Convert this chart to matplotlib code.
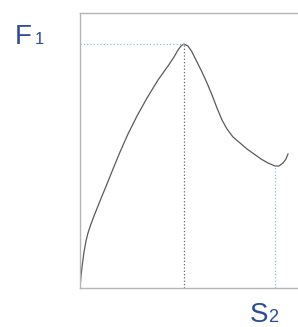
import matplotlib.pyplot as plt

# curve (x, y in arbitrary units, origin at the axes corner)
curve_x = [0, 1, 2, 4, 6, 8, 11, 14, 18, 22, 27, 33, 40, 48, 57, 67, 78, 88, 94, 98, 101, 104,
           108, 112, 117, 122, 127, 132, 137, 142, 147, 153, 160, 167, 174, 181, 188, 195,
           199, 203, 206, 208]
curve_y = [0, 12, 21, 36, 47, 55, 64, 72, 82, 92, 104, 119, 136, 154, 172, 190, 208, 222, 231, 238, 242, 244,
           242, 236, 226, 216, 205, 193, 180, 168, 159, 151, 145, 139, 134, 129, 125, 122,
           122, 125, 129, 134]

peak_x, peak_y = 104, 244
min_x, min_y = 195, 122
x_max, y_max = 220, 275

label_f = "F"
label_f_sub = "1"
label_s = "S"
label_s_sub = "2"


def main():
    plt.rcParams["font.family"] = ["Liberation Sans", "DejaVu Sans"]
    fig = plt.figure(figsize=(2.98, 3.27), dpi=100)
    ax = fig.add_axes([80 / 298, 1 - 288 / 327, 220 / 298, 275 / 327])

    ax.plot(curve_x, curve_y, color="#5a5a5a", linewidth=0.9)
    ax.plot([0, peak_x], [peak_y, peak_y], color="#8cc3de", linestyle=":", linewidth=0.9)
    ax.plot([peak_x, peak_x], [0, peak_y], color="#666666", linestyle=":", linewidth=0.9)
    ax.plot([min_x, min_x], [0, min_y], color="#8cc3de", linestyle=":", linewidth=0.9)

    ax.set_xlim(0, x_max)
    ax.set_ylim(0, y_max)
    ax.set_xticks([])
    ax.set_yticks([])
    for side in ["left", "bottom", "top"]:
        ax.spines[side].set_color("#b5b5b5")
        ax.spines[side].set_linewidth(1.0)
    ax.spines["right"].set_visible(False)

    blue = "#2b4c9b"
    fig.text(15 / 298, 1 - 44 / 327, label_f, color=blue, fontsize=20, va="baseline")
    fig.text(35 / 298, 1 - 44 / 327, label_f_sub, color=blue, fontsize=12, va="baseline")
    fig.text(250 / 298, 1 - 322 / 327, label_s, color=blue, fontsize=20, va="baseline")
    fig.text(268 / 298, 1 - 322 / 327, label_s_sub, color=blue, fontsize=13, va="baseline")

    fig.savefig("out.png", dpi=100)


if __name__ == "__main__":
    main()
